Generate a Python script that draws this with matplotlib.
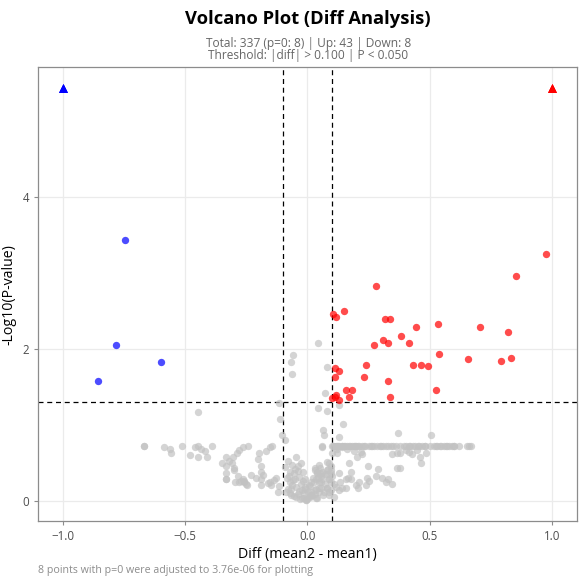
import numpy as np
import matplotlib.pyplot as plt

plt.rcParams['font.family'] = ['Open Sans', 'DejaVu Sans']

# thresholds
diff_cut = 0.1
p_cut = 0.05
p_floor = 3.76e-06

# up-regulated points (diff, -log10 p)
up_x = [0.976, 0.853, 0.282, 0.151, 0.106, 0.118, 0.318, 0.339, 0.445, 0.535,
        0.706, 0.820, 0.384, 0.310, 0.327, 0.273, 0.416, 0.539, 0.657, 0.833,
        0.792, 0.433, 0.465, 0.494, 0.241, 0.114, 0.131, 0.114, 0.233, 0.327,
        0.527, 0.159, 0.184, 0.171, 0.339, 0.114, 0.102, 0.131, 0.118]
up_y = [3.24, 2.96, 2.83, 2.49, 2.46, 2.42, 2.39, 2.39, 2.29, 2.32,
        2.29, 2.22, 2.17, 2.11, 2.08, 2.05, 2.07, 1.93, 1.86, 1.88,
        1.84, 1.78, 1.78, 1.77, 1.78, 1.75, 1.71, 1.63, 1.63, 1.58,
        1.46, 1.45, 1.45, 1.37, 1.37, 1.37, 1.35, 1.32, 1.39]

# down-regulated points
down_x = [-0.743, -0.780, -0.596, -0.857]
down_y = [3.43, 2.05, 1.82, 1.57]

# p = 0 points, drawn at the floor value
zero_up_x = [1.0, 1.0, 1.0, 1.0]
zero_down_x = [-1.0, -1.0, -1.0, -1.0]

# not significant
ns_x = [-0.669, -0.669, -0.584, -0.559, -0.514, -0.461, -0.445, -0.433, -0.388, -0.445,
        -0.408, -0.445, -0.331, -0.331, -0.331, -0.331, -0.331, -0.302, -0.306, -0.298,
        -0.286, -0.278, -0.265, -0.241, -0.294, -0.278, -0.265, -0.257, -0.245, -0.270,
        -0.196, -0.171, -0.151, -0.143, -0.188, -0.188, -0.188, -0.188, -0.151, -0.147,
        -0.127, -0.122, -0.114, -0.110, -0.102, -0.090, -0.086, -0.073, -0.061, -0.045,
        -0.053, -0.037, -0.020, -0.073, -0.061, -0.045, -0.033, -0.065, -0.045, -0.024,
        -0.004, 0.016, 0.037, 0.049, 0.029, 0.041, 0.049, 0.057, 0.049, 0.057,
        0.061, 0.090, 0.098, 0.090, 0.082, 0.090, 0.110, 0.045, -0.057, -0.069,
        -0.061, 0.082, 0.073, 0.045, 0.082, 0.131, 0.147, 0.065, 0.069, 0.131,
        0.061, 0.371,
        0.061, 0.102, 0.122, 0.143, 0.163, 0.184, 0.212, 0.224, 0.253, 0.273,
        0.286, 0.302, 0.322, 0.343, 0.404, 0.416, 0.457, 0.469, 0.518, 0.531,
        0.547, 0.559, 0.571, 0.592, 0.653, 0.669, 0.110, 0.130, 0.150, 0.170,
        0.195, 0.235, 0.260, 0.310, 0.330, 0.420, 0.440, 0.500, 0.540, 0.580,
        0.660, 0.102, 0.122, 0.220, 0.224, 0.204, 0.347, 0.367, 0.404, 0.171,
        0.249, 0.290, 0.367, 0.131, 0.180, 0.159, 0.180, 0.212, 0.245, 0.253,
        0.306, 0.331, 0.118, 0.131, 0.143, 0.159, 0.208, 0.376, 0.376, 0.416,
        0.429, 0.449, 0.461, 0.465, 0.486, 0.506, 0.029, 0.041, 0.053, 0.037,
        0.057, 0.049, 0.082, 0.069, -0.024, 0.016, 0.041, -0.004, 0.082, 0.098,
        0.098, 0.090, 0.098,
        -0.080, -0.070, -0.055, -0.040, -0.030, -0.015, 0.000, 0.010, 0.020, 0.030,
        -0.085, -0.075, -0.060, -0.050, -0.035, -0.025, -0.010, 0.005, 0.025, 0.045,
        0.060, 0.070, 0.080, 0.095, -0.090, -0.078, -0.066, -0.052, -0.040, -0.028,
        0.012, 0.022, 0.035, 0.050, 0.065, 0.078, 0.088, 0.100, -0.015, 0.003,
        0.105, 0.115, 0.125, 0.140, 0.155, 0.175, 0.190, 0.205, 0.230, 0.265,
        0.295, 0.350, 0.380, 0.395, 0.430, 0.450, 0.480, 0.525, 0.565, 0.600,
        -0.320, -0.300, -0.285, -0.260, -0.250, -0.200, -0.180, -0.160, -0.135, -0.115,
        -0.560, -0.480, -0.420, -0.350, -0.230, -0.210, 0.120, 0.140, 0.160, 0.190,
        0.110, 0.135, 0.165, 0.200, 0.240, 0.280, 0.320, 0.345, 0.010, -0.008,
        -0.008, 0.015, 0.030, -0.020, 0.070, 0.085, 0.200, 0.360, 0.480, 0.620,
        0.600]
ns_y = [0.725, 0.725, 0.71, 0.63, 0.725, 0.70, 0.725, 0.68, 0.725, 0.57,
        0.57, 1.16, 0.58, 0.46, 0.37, 0.28, 0.28, 0.57, 0.49, 0.43,
        0.63, 0.67, 0.70, 0.725, 0.25, 0.24, 0.28, 0.24, 0.20, 0.26,
        0.63, 0.66, 0.71, 0.725, 0.46, 0.38, 0.29, 0.21, 0.25, 0.20,
        0.30, 0.11, 1.29, 1.08, 0.87, 0.80, 0.11, 0.38, 0.47, 0.57,
        0.36, 0.39, 0.38, 0.25, 0.21, 0.18, 0.13, 0.08, 0.05, 0.04,
        0.01, 0.08, 0.04, 0.11, 0.43, 0.38, 0.47, 0.32, 0.24, 0.17,
        0.28, 0.50, 0.41, 0.28, 0.17, 0.11, 0.05, 2.08, 1.91, 1.83,
        1.66, 1.76, 1.42, 1.22, 1.18, 1.26, 1.01, 0.93, 0.87, 0.84,
        0.71, 0.89,
        0.725, 0.725, 0.725, 0.725, 0.725, 0.725, 0.725, 0.725, 0.725, 0.725,
        0.725, 0.725, 0.725, 0.725, 0.725, 0.725, 0.725, 0.725, 0.725, 0.725,
        0.725, 0.725, 0.725, 0.725, 0.725, 0.725, 0.725, 0.725, 0.725, 0.725,
        0.725, 0.725, 0.725, 0.725, 0.725, 0.725, 0.725, 0.725, 0.725, 0.725,
        0.725, 0.63, 0.63, 0.64, 0.61, 0.58, 0.61, 0.63, 0.67, 0.50,
        0.46, 0.42, 0.43, 0.37, 0.38, 0.28, 0.29, 0.24, 0.30, 0.26,
        0.30, 0.28, 0.18, 0.14, 0.17, 0.17, 0.17, 0.63, 0.43, 0.64,
        0.61, 0.67, 0.58, 0.50, 0.63, 0.87, 0.41, 0.37, 0.43, 0.28,
        0.24, 0.17, 0.17, 0.12, 0.14, 0.11, 0.04, 0.01, 0.51, 0.45,
        0.37, 0.28, 0.24,
        0.15, 0.10, 0.06, 0.09, 0.02, 0.03, 0.02, 0.05, 0.07, 0.09,
        0.30, 0.33, 0.27, 0.42, 0.31, 0.22, 0.28, 0.20, 0.25, 0.31,
        0.38, 0.22, 0.35, 0.14, 0.44, 0.52, 0.16, 0.29, 0.46, 0.50,
        0.19, 0.30, 0.15, 0.36, 0.08, 0.40, 0.07, 0.33, 0.10, 0.12,
        0.725, 0.725, 0.725, 0.725, 0.725, 0.725, 0.725, 0.725, 0.725, 0.725,
        0.725, 0.725, 0.725, 0.725, 0.725, 0.725, 0.725, 0.725, 0.725, 0.725,
        0.52, 0.40, 0.33, 0.26, 0.22, 0.55, 0.34, 0.23, 0.27, 0.19,
        0.68, 0.60, 0.66, 0.50, 0.34, 0.30, 0.68, 0.70, 0.68, 0.66,
        0.22, 0.24, 0.30, 0.21, 0.20, 0.33, 0.25, 0.22, 0.06, 0.18,
        0.16, 0.25, 0.14, 0.26, 0.35, 0.42, 0.725, 0.725, 0.725, 0.725,
        0.725]

y_floor = -np.log10(p_floor)
n_zero = len(zero_up_x) + len(zero_down_x)
n_up = len(up_x) + len(zero_up_x)
n_down = len(down_x) + len(zero_down_x)
n_total = len(ns_x) + n_up + n_down

fig = plt.figure(figsize=(5.85, 5.85), dpi=100, facecolor='w')
ax = fig.add_axes([0.065, 0.109, 0.921, 0.776])

ax.scatter(ns_x, ns_y, s=28, color='#c2c2c2', alpha=0.7, linewidths=0, zorder=3)
ax.scatter(up_x, up_y, s=28, color='red', alpha=0.7, linewidths=0, zorder=4)
ax.scatter(down_x, down_y, s=28, color='blue', alpha=0.7, linewidths=0, zorder=4)
ax.scatter(zero_up_x, [y_floor] * len(zero_up_x), s=38, marker='^', color='red',
           linewidths=0, zorder=5)
ax.scatter(zero_down_x, [y_floor] * len(zero_down_x), s=38, marker='^', color='blue',
           linewidths=0, zorder=5)

for v in (-diff_cut, diff_cut):
    ax.axvline(v, color='black', ls=(0, (4, 3)), lw=0.9, zorder=2)
ax.axhline(-np.log10(p_cut), color='black', ls=(0, (4, 3)), lw=0.9, zorder=2)

ax.set_xlim(-1.1, 1.1)
ax.set_ylim(-0.27, 5.70)
ax.set_xticks([-1.0, -0.5, 0.0, 0.5, 1.0])
ax.set_yticks([0, 2, 4])
ax.grid(True, color='#ebebeb', lw=0.9, zorder=0)
ax.set_axisbelow(True)
for sp in ax.spines.values():
    sp.set_color('#8c8c8c')
    sp.set_linewidth(0.9)
ax.tick_params(colors='#8c8c8c', labelcolor='#4d4d4d', labelsize=8.3, length=3, width=0.8)

ax.set_xlabel('Diff (mean2 - mean1)', fontsize=10.2, labelpad=3)
ax.set_ylabel('-Log10(P-value)', fontsize=10.2, labelpad=4)

fig.text(0.527, 0.967, 'Volcano Plot (Diff Analysis)', ha='center', va='center',
         fontsize=13.2, fontweight='bold')
fig.text(0.527, 0.915, 'Total: %d (p=0: %d) | Up: %d | Down: %d\nThreshold: |diff| > %.3f | P < %.3f'
         % (n_total, n_zero, n_up, n_down, diff_cut, p_cut),
         ha='center', va='center', fontsize=8.6, color='#666666', linespacing=0.95)
fig.text(0.065, 0.024, '%d points with p=0 were adjusted to %.2e for plotting' % (n_zero, p_floor),
         ha='left', va='center', fontsize=7.7, color='#8c8c8c')

plt.savefig('out.png', dpi=100)
